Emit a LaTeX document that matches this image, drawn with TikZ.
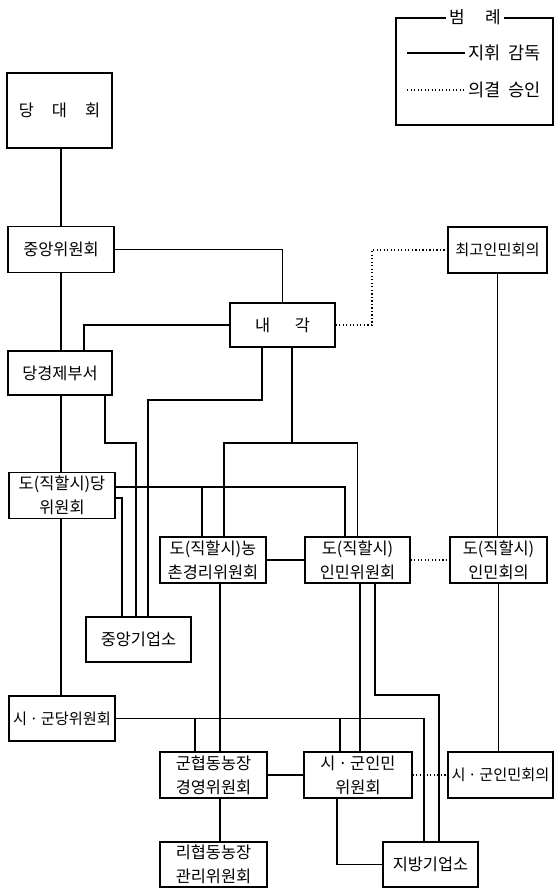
\documentclass[tikz,border=0pt]{standalone}
\usepackage{fontspec}
\newfontfamily\kr{Noto Sans CJK KR}
\usetikzlibrary{positioning}

\begin{document}
\begin{tikzpicture}[x=0.03cm, y=-0.03cm, line width=1.2pt,
  every node/.style={font=\kr\fontsize{14}{20.5}\selectfont},
  unit/.style={draw, fill=white, align=center, inner sep=0pt, minimum width=3.18cm, minimum height=1.38cm},
  narrow/.style={font=\kr\fontsize{13}{20.5}\selectfont},
  approve/.style={dotted, line width=1pt}]
  \useasboundingbox (0,0) rectangle (554,888);
  % legend
  \draw (396,18) rectangle (553,125);
  \node[fill=white, inner xsep=3pt, font=\kr\fontsize{14.5}{18}\selectfont] (legTitle) at (475,17) {범\hspace{1.2em}례};
  \coordinate (legSolidStart) at (407,53);
  \coordinate (legDotStart) at (407,90);
  \node[anchor=west, inner xsep=2pt, font=\kr\fontsize{15}{18}\selectfont] (legSolid) at (465,53) {지휘\hspace{0.45em}감독};
  \node[anchor=west, inner xsep=2pt, font=\kr\fontsize{15}{18}\selectfont] (legDot) at (465,90) {의결\hspace{0.45em}승인};
  \draw (legSolidStart) -- (legSolid.west);
  \draw[approve] (legDotStart) -- (legDot.west);
  % units
  \node[unit, minimum width=3.15cm, minimum height=2.25cm] (daehoe) at (59.5,110.5) {당\hspace{1.1em}대\hspace{1.1em}회};
  \node[unit] (jungang) at (61,249.5) {중앙위원회};
  \node[unit, narrow, minimum width=2.97cm] (choego) at (497.5,250) {최고인민회의};
  \node[unit, minimum width=3.15cm, minimum height=1.32cm] (naegak) at (282.5,325) {내\hspace{1.5em}각};
  \node[unit, minimum width=3.12cm, minimum height=1.32cm] (dangGyeong) at (60,373) {당경제부서};
  \node[unit] (doDang) at (62,495.5) {도(직할시)당\\위원회};
  \node[unit] (doNong) at (213,560) {도(직할시)농\\촌경리위원회};
  \node[unit, minimum width=3.15cm] (doInwi) at (357.5,560) {도(직할시)\\인민위원회};
  \node[unit, minimum width=2.91cm] (doInhoe) at (498.5,560) {도(직할시)\\인민회의};
  \node[unit, minimum width=3.15cm, minimum height=1.35cm] (jungGiup) at (138.5,639.5) {중앙기업소};
  \node[unit, narrow, minimum height=1.35cm] (siDang) at (62,718.5) {시\,·\,군당위원회};
  \node[unit, minimum width=3.21cm] (gunHyeop) at (213.5,775) {군협동농장\\경영위원회};
  \node[unit, minimum width=3.24cm] (siInwi) at (358,775) {시\,·\,군인민\\위원회};
  \node[unit, narrow, minimum width=3.15cm] (siInhoe) at (500.5,775) {시\,·\,군인민회의};
  \node[unit, minimum width=3.21cm, minimum height=1.35cm] (riHyeop) at (213.5,864.5) {리협동농장\\관리위원회};
  \node[unit, minimum width=2.85cm, minimum height=1.35cm] (jibang) at (430.5,864.5) {지방기업소};
  % party spine
  \draw (61,0 |- daehoe.south) -- (61,0 |- jungang.north);
  \draw (61,0 |- jungang.south) -- (61,0 |- dangGyeong.north);
  \draw (61,0 |- dangGyeong.south) -- (61,0 |- doDang.north);
  \draw (61,0 |- doDang.south) -- (61,0 |- siDang.north);
  % cabinet
  \draw (jungang.east) -| (naegak.north);
  \draw[approve] (naegak.east) -- (372,0 |- naegak.east) |- (choego.west);
  \draw (naegak.west) -| (84,0 |- dangGyeong.north);
  \draw (262,0 |- naegak.south) |- (148,400) -- (148,0 |- jungGiup.north);
  \coordinate (forkCab) at (292,443);
  \draw (292,0 |- naegak.south) -- (forkCab);
  \draw (224,0 |- doNong.north) |- (doInwi.north |- forkCab) -- (doInwi.north);
  \draw (105,0 |- dangGyeong.south) |- (136,443) -- (136,0 |- jungGiup.north);
  % province
  \draw (doDang.east |- 0,487) -| (345,0 |- doInwi.north);
  \draw (202,487) -- (202,0 |- doNong.north);
  \draw (doDang.east |- 0,498) -| (122,0 |- jungGiup.north);
  \draw (doNong) -- (doInwi);
  \draw[approve] (doInwi) -- (doInhoe);
  \draw (choego.south) -- (choego.south |- doInhoe.north);
  \draw (doInhoe.south) -- (doInhoe.south |- siInhoe.north);
  \draw (220,0 |- doNong.south) -- (220,0 |- gunHyeop.north);
  \draw (360,0 |- doInwi.south) -- (360,0 |- siInwi.north);
  \draw (375,0 |- doInwi.south) |- (439,695) -- (439,0 |- jibang.north);
  % city and county
  \draw (siDang.east) -| (424,0 |- jibang.north);
  \draw (195,0 |- siDang.east) -- (195,0 |- gunHyeop.north);
  \draw (340,0 |- siDang.east) -- (340,0 |- siInwi.north);
  \draw (gunHyeop) -- (siInwi);
  \draw[approve] (siInwi) -- (siInhoe);
  \draw (220,0 |- gunHyeop.south) -- (220,0 |- riHyeop.north);
  \draw (337,0 |- siInwi.south) |- (jibang.west);
\end{tikzpicture}
\end{document}
